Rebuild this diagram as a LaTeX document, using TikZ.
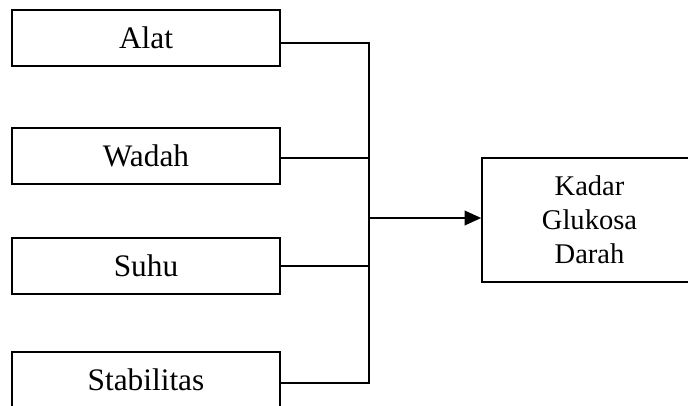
\documentclass[tikz,border=0pt]{standalone}
\usepackage{fontspec}
\setmainfont{Liberation Serif}
\usetikzlibrary{arrows.meta}

\tikzset{
  varbox/.style={draw, line width=1.5pt, minimum width=201pt, minimum height=42pt, inner sep=0pt, font=\fontsize{23.5}{28}\selectfont},
  link/.style={line width=1.5pt}
}

\begin{document}
\begin{tikzpicture}[x=0.75pt,y=0.75pt,yscale=-1,xscale=1]
\clip (0,0) rectangle (688,405);
\useasboundingbox (0,0) rectangle (688,405);

% Text Node
\node [varbox, text depth=1pt] (alat) at (146,38) {Alat};
% Text Node
\node [varbox] (wadah) at (146,156) {Wadah};
% Text Node
\node [varbox] (suhu) at (146,266) {Suhu};
% Text Node
\node [varbox] (stabilitas) at (146,380) {Stabilitas};
% Text Node
\node [varbox, minimum width=161pt, minimum height=93pt, align=center, font=\fontsize{21.4}{25.5}\selectfont] (kadar) at (589.5,220) {Kadar\\Glukosa\\Darah};

% junction points
\coordinate (jtop) at (369,42.5);
\coordinate (jwadah) at (369,158);
\coordinate (jmid) at (369,218);
\coordinate (jsuhu) at (369,266);
\coordinate (jbot) at (369,383);

%Straight Lines
\draw [link] (alat.east |- jtop) -- (jtop) -- (jbot) -- (stabilitas.east |- jbot);
%Straight Lines
\draw [link] (wadah.east |- jwadah) -- (jwadah);
%Straight Lines
\draw [link] (suhu.east |- jsuhu) -- (jsuhu);
%Straight Lines
\draw [link, -{Triangle[length=12.5pt,width=11pt]}] (jmid) -- (jmid -| kadar.west);

\end{tikzpicture}
\end{document}
